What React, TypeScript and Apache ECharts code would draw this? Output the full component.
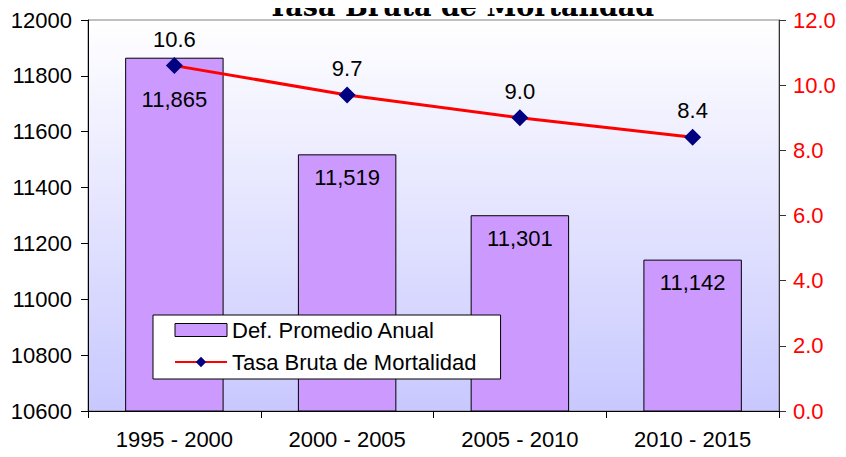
import React, { useEffect, useRef } from "react";
import * as echarts from "echarts";

const categories = ["1995 - 2000", "2000 - 2005", "2005 - 2010", "2010 - 2015"];
const defunciones = [11865, 11519, 11301, 11142];
const tasa = [10.6, 9.7, 9.0, 8.4];
const titleText = "Tasa Bruta de Mortalidad";
const barName = "Def. Promedio Anual";
const lineName = "Tasa Bruta de Mortalidad";

export default function App() {
  const ref = useRef<HTMLDivElement>(null);
  useEffect(() => {
    if (!ref.current) return;
    const chart = echarts.init(ref.current, null, { renderer: "svg" });
    const font = "'Liberation Sans', Arial, sans-serif";
    chart.setOption({
      animation: false,
      graphic: [
        {
          type: "text",
          x: 461,
          y: 6,
          z: 100,
          style: {
            text: titleText,
            font: "bold 27px 'DejaVu Serif', serif",
            fill: "#000",
            textAlign: "center",
            textVerticalAlign: "middle",
          },
        },
      ],
      legend: {
        orient: "vertical",
        left: 153,
        top: 315,
        backgroundColor: "#fff",
        borderColor: "#000",
        borderWidth: 1,
        borderRadius: 0,
        padding: [4, 24, 6, 21],
        itemGap: 10,
        itemWidth: 52,
        itemHeight: 13,
        textStyle: { fontFamily: font, fontSize: 22, color: "#000" },
        data: [
          { name: barName, icon: "rect", itemStyle: { borderColor: "#000", borderWidth: 1 } },
          { name: lineName },
        ],
      },
      grid: {
        left: 88,
        right: 67,
        top: 20,
        bottom: 46,
        show: true,
        borderColor: "#808080",
        borderWidth: 1,
        backgroundColor: new echarts.graphic.LinearGradient(0, 0, 0, 1, [
          { offset: 0, color: "#ffffff" },
          { offset: 1, color: "#c8c8ff" },
        ]),
      },
      xAxis: {
        type: "category",
        data: categories,
        axisLine: { lineStyle: { color: "#000", width: 1 } },
        axisTick: { show: true, alignWithLabel: false, length: 7, lineStyle: { color: "#000" } },
        axisLabel: { fontFamily: font, fontSize: 22, color: "#000", margin: 17 },
      },
      yAxis: [
        {
          type: "value",
          min: 10600,
          max: 12000,
          interval: 200,
          splitLine: { show: false },
          axisLine: { show: true, lineStyle: { color: "#000" } },
          axisTick: { show: true, length: 7, lineStyle: { color: "#000" } },
          axisLabel: {
            fontFamily: font,
            fontSize: 22,
            color: "#000",
            margin: 16,
            formatter: (v: number) => String(v),
          },
        },
        {
          type: "value",
          min: 0,
          max: 12,
          interval: 2,
          position: "right",
          splitLine: { show: false },
          axisLine: { show: true, lineStyle: { color: "#333" } },
          axisTick: { show: true, length: 7, lineStyle: { color: "#333" } },
          axisLabel: {
            fontFamily: font,
            fontSize: 22,
            color: "#ff0000",
            margin: 14,
            formatter: (v: number) => v.toFixed(1),
          },
        },
      ],
      series: [
        {
          name: barName,
          type: "bar",
          yAxisIndex: 0,
          barWidth: "57%",
          itemStyle: { color: "#cc99ff", borderColor: "#000", borderWidth: 1 },
          label: {
            show: true,
            position: "insideTop",
            distance: 12,
            fontFamily: font,
            fontSize: 22,
            color: "#000",
            formatter: (p: any) => p.value.toLocaleString("en-US"),
          },
          data: defunciones.map((v, i) =>
            i === 0 ? { value: v, label: { distance: 31 } } : v
          ),
        },
        {
          name: lineName,
          type: "line",
          yAxisIndex: 1,
          symbol: "diamond",
          symbolSize: 17,
          lineStyle: { color: "#ff0000", width: 3 },
          itemStyle: { color: "#000080" },
          label: {
            show: true,
            position: "top",
            distance: 7,
            fontFamily: font,
            fontSize: 22,
            color: "#000",
            formatter: (p: any) => p.value.toFixed(1),
          },
          data: tasa,
        },
      ],
    });
    return () => chart.dispose();
  }, []);
  return <div ref={ref} style={{ width: 846, height: 457, margin: -8 }} />;
}
